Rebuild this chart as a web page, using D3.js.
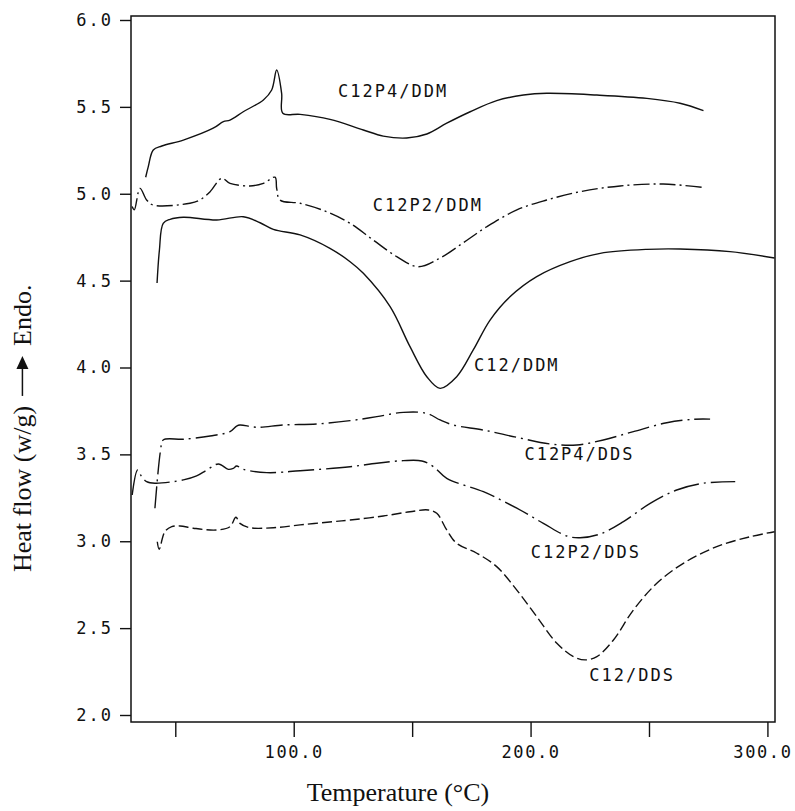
<!DOCTYPE html>
<html>
<head>
<meta charset="utf-8">
<script src="https://cdn.jsdelivr.net/npm/d3@7"></script>
<style>
  html, body { margin: 0; padding: 0; background: #fff; }
  svg { display: block; }
</style>
</head>
<body>
<svg id="chart" width="795" height="811"></svg>
<script>
// DSC traces: [temperature (°C), heat flow (W/g)]
const c12p4DDM = [[37.5,5.095],[38.6,5.156],[40.7,5.252],[44.3,5.275],[53.4,5.309],[66.0,5.377],[70.3,5.415],[73.1,5.424],[78.7,5.472],[87.2,5.540],[90.7,5.597],[92.8,5.712],[94.9,5.578],[95.4,5.463],[102.7,5.457],[115.3,5.428],[129.4,5.367],[137.8,5.332],[147.7,5.321],[156.2,5.344],[164.6,5.406],[174.5,5.472],[185.7,5.536],[197.0,5.568],[206.8,5.578],[228.0,5.568],[249.1,5.549],[263.1,5.521],[273.0,5.478]];
const c12p2DDM = [[31.8,4.926],[32.7,4.907],[35.1,5.031],[37.9,4.964],[40.7,4.935],[56.2,4.945],[60.4,4.964],[64.7,5.012],[69.6,5.089],[73.1,5.060],[81.5,5.045],[87.2,5.060],[92.1,5.095],[92.8,5.031],[94.2,4.964],[102.7,4.945],[113.9,4.897],[123.8,4.830],[133.5,4.734],[143.5,4.638],[152.5,4.580],[161.8,4.630],[171.5,4.717],[181.5,4.810],[194.2,4.907],[206.8,4.964],[220.9,5.012],[237.8,5.045],[256.0,5.056],[272.3,5.037]];
const c12DDM = [[42.3,4.486],[43.3,4.676],[44.9,4.830],[47.8,4.853],[53.4,4.865],[67.5,4.849],[78.7,4.868],[85.8,4.833],[91.4,4.795],[102.7,4.763],[115.3,4.686],[123.8,4.609],[129.4,4.542],[140.7,4.350],[149.1,4.120],[156.2,3.947],[161.8,3.880],[168.8,3.947],[175.8,4.101],[182.9,4.273],[191.3,4.407],[202.6,4.523],[216.7,4.609],[229.4,4.657],[249.1,4.680],[263.1,4.682],[284.2,4.667],[303.0,4.630]];
const c12p4DDS = [[41.4,3.190],[43.8,3.525],[44.9,3.583],[53.4,3.587],[64.7,3.606],[73.1,3.631],[75.9,3.663],[77.3,3.669],[84.4,3.656],[95.6,3.669],[109.7,3.675],[123.8,3.694],[135.1,3.717],[146.3,3.742],[156.2,3.736],[161.8,3.698],[167.4,3.669],[180.1,3.640],[194.2,3.598],[208.2,3.560],[219.5,3.554],[230.7,3.583],[243.4,3.631],[257.5,3.682],[268.8,3.702],[275.8,3.703]];
const c12p2DDS = [[31.8,3.266],[34.1,3.410],[35.8,3.372],[37.9,3.343],[41.4,3.334],[53.4,3.353],[59.0,3.376],[63.3,3.410],[68.2,3.445],[72.4,3.414],[74.5,3.420],[75.9,3.433],[78.7,3.414],[88.6,3.395],[102.7,3.406],[123.8,3.429],[135.1,3.449],[146.3,3.464],[154.1,3.462],[159.0,3.429],[164.6,3.362],[180.1,3.285],[194.2,3.190],[205.4,3.103],[215.3,3.030],[220.9,3.020],[229.4,3.042],[239.2,3.113],[250.5,3.218],[261.7,3.295],[273.0,3.334],[286.4,3.343]];
const c12DDS = [[42.4,2.997],[43.2,2.954],[45.6,3.055],[48.5,3.084],[52.0,3.088],[57.6,3.075],[67.5,3.065],[73.1,3.084],[75.6,3.138],[77.3,3.103],[81.5,3.078],[91.4,3.078],[102.7,3.094],[116.7,3.113],[123.8,3.122],[137.8,3.145],[149.1,3.170],[156.8,3.180],[160.4,3.161],[164.6,3.065],[168.8,2.988],[177.3,2.931],[185.7,2.854],[194.2,2.719],[202.6,2.566],[211.1,2.413],[218.1,2.336],[223.0,2.317],[228.0,2.336],[235.0,2.432],[243.4,2.604],[253.3,2.758],[264.5,2.873],[278.6,2.969],[292.7,3.026],[303.0,3.055]];

// Curve names and where their labels sit, in data units [temperature, heat flow]
const seriesNames = ["C12P4/DDM", "C12P2/DDM", "C12/DDM", "C12P4/DDS", "C12P2/DDS", "C12/DDS"];
const labelAnchors = [[118.7,5.557],[133.4,4.901],[176.1,3.980],[197.4,3.468],[200.1,2.904],[224.8,2.196]];

// Axis ticks
const xTicks = [50, 100, 150, 200, 250, 300];
const xTickLabels = ["", "100.0", "", "200.0", "", "300.0"];
const yTicks = [2.0, 2.5, 3.0, 3.5, 4.0, 4.5, 5.0, 5.5, 6.0];

const traces = [c12p4DDM, c12p2DDM, c12DDM, c12p4DDS, c12p2DDS, c12DDS];
const dashes = [null, "16,4,2,4", null, "22,5,2,5", "26,5,2,5", "10,4"];

const svg = d3.select("#chart");
const monoFont = "'DejaVu Sans Mono', 'Liberation Mono', monospace";
const serifFont = "'Liberation Serif', 'DejaVu Serif', serif";

const frame = { left: 131, right: 775, top: 16, bottom: 722 };

const x = d3.scaleLinear().domain([31.3, 303.2]).range([frame.left, frame.right]);
const y = d3.scaleLinear().domain([2, 6]).range([715, 20]);

// Plot frame
svg.append("rect")
  .attr("x", frame.left).attr("y", frame.top)
  .attr("width", frame.right - frame.left).attr("height", frame.bottom - frame.top)
  .attr("fill", "none").attr("stroke", "#111").attr("stroke-width", 1.5);

// Y axis
const yAxis = svg.append("g")
  .attr("transform", `translate(${frame.left},0)`)
  .call(d3.axisLeft(y).tickValues(yTicks).tickFormat(d3.format(".1f")).tickSize(11).tickPadding(7));
yAxis.select(".domain").remove();
yAxis.selectAll("line").attr("stroke", "#111").attr("stroke-width", 1.4);
yAxis.selectAll("text")
  .attr("font-family", monoFont).attr("font-size", 17)
  .attr("letter-spacing", 2).attr("fill", "#111");

// X axis
const xAxis = svg.append("g")
  .attr("transform", `translate(0,${frame.bottom})`)
  .call(d3.axisBottom(x).tickValues(xTicks).tickFormat((d, i) => xTickLabels[i]).tickSize(15).tickPadding(9));
xAxis.select(".domain").remove();
xAxis.selectAll("line").attr("stroke", "#111").attr("stroke-width", 1.4);
xAxis.selectAll("text")
  .attr("font-family", monoFont).attr("font-size", 17)
  .attr("letter-spacing", 1.6).attr("fill", "#111")
  .attr("dx", d => (d === 300 ? -5 : 0));

// Traces
const line = d3.line()
  .x(d => x(d[0])).y(d => y(d[1]))
  .curve(d3.curveCatmullRom.alpha(0.5));

svg.append("g").selectAll("path")
  .data(traces)
  .join("path")
  .attr("d", line)
  .attr("fill", "none")
  .attr("stroke", "#111")
  .attr("stroke-width", 1.4)
  .attr("stroke-linejoin", "round")
  .attr("stroke-dasharray", (d, i) => dashes[i]);

// Curve labels
svg.append("g").selectAll("text")
  .data(seriesNames)
  .join("text")
  .attr("x", (d, i) => x(labelAnchors[i][0]))
  .attr("y", (d, i) => y(labelAnchors[i][1]))
  .attr("font-family", monoFont).attr("font-size", 17)
  .attr("letter-spacing", 2).attr("fill", "#111")
  .text(d => d);

// X axis title
svg.append("text")
  .attr("x", 398).attr("y", 801)
  .attr("text-anchor", "middle")
  .attr("font-family", serifFont).attr("font-size", 26).attr("fill", "#111")
  .text("Temperature (°C)");

// Y axis title with the endotherm arrow
const yTitle = svg.append("g").attr("transform", "translate(31,572) rotate(-90)");
const ySize = 26;
const part1 = yTitle.append("text")
  .attr("x", 0).attr("y", 0)
  .attr("font-family", serifFont).attr("font-size", ySize).attr("fill", "#111")
  .text("Heat flow (w/g)");
const len1 = part1.node().getComputedTextLength();
const a0 = len1 + 10, a1 = a0 + 40, ay = -ySize * 0.33;
yTitle.append("line")
  .attr("x1", a0).attr("y1", ay).attr("x2", a1 - 10).attr("y2", ay)
  .attr("stroke", "#111").attr("stroke-width", 1.5);
yTitle.append("path")
  .attr("d", `M${a1},${ay} L${a1 - 13},${ay - 6} L${a1 - 13},${ay + 6} Z`)
  .attr("fill", "#111");
yTitle.append("text")
  .attr("x", a1 + 10).attr("y", 0)
  .attr("font-family", serifFont).attr("font-size", ySize).attr("fill", "#111")
  .text("Endo.");
</script>
</body>
</html>
